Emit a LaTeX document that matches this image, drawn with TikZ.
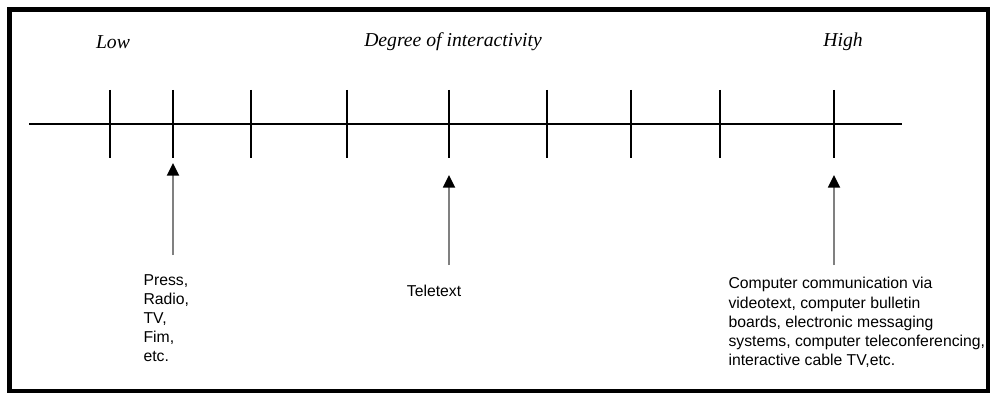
\documentclass[tikz,border=0pt]{standalone}
\usepackage{fontspec}
\setmainfont{Liberation Serif}
\newfontfamily\labelfont{Liberation Sans}
\usepackage{tikz}
\usetikzlibrary{arrows.meta,positioning}

\begin{document}
\begin{tikzpicture} [x=0.025cm, y=-0.025cm,
    line width=0.8pt,
    scalelabel/.style={font=\itshape\fontsize{14}{16}\selectfont, inner sep=0pt},
    medialabel/.style={font=\labelfont\fontsize{11.2}{13.6}\selectfont, align=left, inner sep=0pt},
    pointer/.style={draw=gray, line width=1.4pt, -{Triangle[width=8.5pt,length=9pt,color=black]}}]
  \useasboundingbox (0,0) rectangle (1005,394);
  \draw[line width=3.2pt] (9.5,9.5) rectangle (988,391);

  % scale labels
  \node[scalelabel] (low) at (113,42) {Low};
  \node[scalelabel] (degree) at (453,42) {Degree of interactivity};
  \node[scalelabel] (high) at (843,42) {High};

  % axis and ticks
  \coordinate (axisL) at (29,124);
  \coordinate (axisR) at (902,124);
  \draw (axisL) -- (axisR);
  \foreach \x in {110,173,251,347,449,547,631,720,834}
    \draw (\x,90) -- (\x,158);

  % media
  \node[medialabel, anchor=north west] (press) at (143,274) {Press,\\Radio,\\TV,\\Fim,\\etc.};
  \node[medialabel] (teletext) at (434,291) {Teletext};
  \node[medialabel, anchor=north west] (computer) at (728,277)
    {Computer communication via\\videotext, computer bulletin\\boards, electronic messaging\\systems, computer teleconferencing,\\interactive cable TV,etc.};

  \coordinate (pressTip) at (173,163);
  \coordinate (pressEnd) at (173,255);
  \coordinate (teleTip) at (449,175);
  \coordinate (teleEnd) at (449,265);
  \coordinate (compTip) at (834,175);
  \coordinate (compEnd) at (834,265);

  \draw[pointer] (pressEnd) -- (pressTip);
  \draw[pointer] (teleEnd) -- (teleTip);
  \draw[pointer] (compEnd) -- (compTip);
\end{tikzpicture}
\end{document}
